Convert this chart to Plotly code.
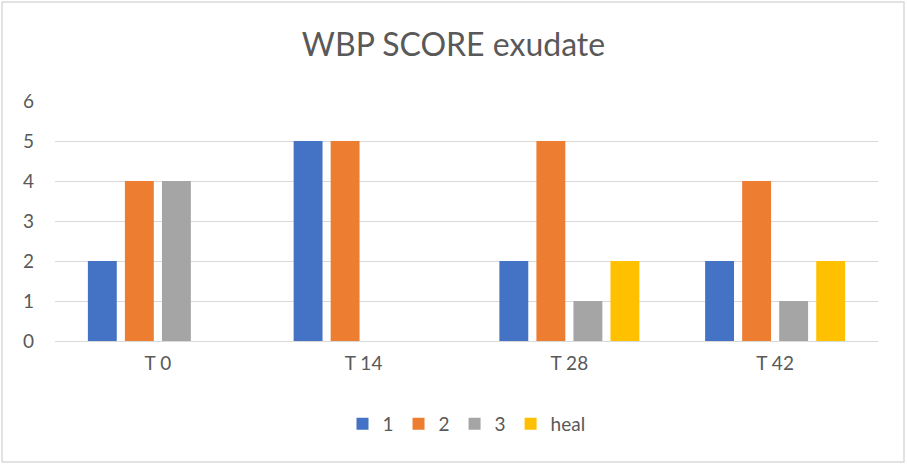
import plotly.graph_objects as go

categories = ["T 0", "T 14", "T 28", "T 42"]
series_names = ["1", "2", "3", "heal"]
s1 = [2, 5, 2, 2]
s2 = [4, 5, 5, 4]
s3 = [4, 0, 1, 1]
heal = [0, 0, 2, 2]
colors = ["#4472C4", "#ED7D31", "#A5A5A5", "#FFC000"]

W, H = 907, 465
L, R, T, B = 55, 29, 101, 124
pw, ph = W - L - R, H - T - B

fig = go.Figure()
for name, vals, c in zip(series_names, [s1, s2, s3, heal], colors):
    fig.add_trace(go.Bar(x=categories, y=vals, name=name, marker_color=c,
                         marker_line_width=0))

fig.update_layout(
    width=W, height=H,
    margin=dict(l=L, r=R, t=T, b=B, pad=0),
    paper_bgcolor="white", plot_bgcolor="white",
    font=dict(family="Lato, Carlito, Calibri, sans-serif", color="#595959", size=19),
    title=dict(text="WBP SCORE exudate", x=0.5, xanchor="center", y=1 - 45 / H,
               yanchor="middle", font=dict(size=32, color="#595959")),
    barmode="group", bargap=0.28, bargroupgap=0.22,
    legend=dict(orientation="h", x=0.5, xanchor="center",
                y=-(424 - (T + ph)) / ph,
                yanchor="middle", font=dict(size=19, color="#595959"),
                traceorder="normal"),
    xaxis=dict(showgrid=False, ticks="", showline=True, linecolor="#D9D9D9",
               tickfont=dict(size=19), ticklabelstandoff=5),
    yaxis=dict(range=[0, 6], dtick=1, showgrid=True, gridcolor="#D9D9D9",
               gridwidth=1, zeroline=False, ticks="", showline=False,
               tickfont=dict(size=19), ticklabelstandoff=20),
    showlegend=True,
)

fig.add_shape(type="rect", xref="paper", yref="paper",
              x0=-(L - 2) / pw, x1=1 + (R - 3) / pw,
              y0=-(B - 3) / ph, y1=1 + (T - 2) / ph,
              line=dict(color="#D9D9D9", width=1.5), layer="below")

fig.write_html("out.html", config={"displayModeBar": False},
               post_script="document.body.style.margin='0';")
